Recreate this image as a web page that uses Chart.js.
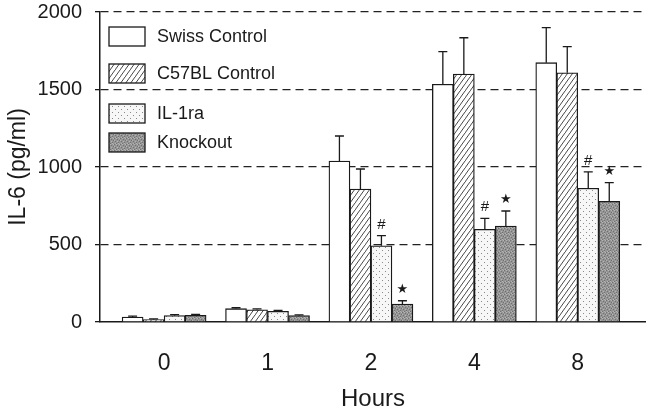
<!DOCTYPE html>
<html>
<head>
<meta charset="utf-8">
<script src="https://cdn.jsdelivr.net/npm/chart.js@4"></script>
<style>
  body { margin: 0; background: #fff; }
  #wrap { width: 646px; height: 415px; position: relative; }
</style>
</head>
<body>
<div id="wrap"><canvas id="il6Chart"></canvas></div>
<script>
const hours = ['0', '1', '2', '4', '8'];
const seriesNames = ['Swiss Control', 'C57BL Control', 'IL-1ra', 'Knockout'];

const swiss = [32, 86, 1039, 1534, 1673];
const swissErr = [6, 6, 161, 210, 226];
const c57 = [15, 79, 858, 1600, 1608];
const c57Err = [5, 6, 129, 234, 168];
const il1ra = [41, 69, 492, 598, 863];
const il1raErr = [6, 6, 65, 71, 105];
const knockout = [43, 41, 116, 619, 779];
const knockoutErr = [6, 5, 21, 97, 120];

const il1raSig = ['', '', '#', '#', '#'];
const knockoutSig = ['', '', '★', '★', '★'];

const yTicks = [0, 500, 1000, 1500, 2000];

const FONT = "'Liberation Sans', Arial, sans-serif";
const INK = '#1a1a1a';

function makePattern(w, h, paint) {
    const c = document.createElement('canvas');
    c.width = w; c.height = h;
    const g = c.getContext('2d');
    paint(g, w, h);
    return g.createPattern(c, 'repeat');
}

const ctx = document.getElementById('il6Chart').getContext('2d');

const hatch = makePattern(5, 7, (g, w, h) => {
    g.fillStyle = '#fff'; g.fillRect(0, 0, w, h);
    g.strokeStyle = '#333'; g.lineWidth = 0.9;
    g.beginPath();
    g.moveTo(0, h); g.lineTo(w, 0);
    g.moveTo(-w, h); g.lineTo(0, 0);
    g.moveTo(w, 2 * h); g.lineTo(2 * w, 0);
    g.stroke();
});

const dots = makePattern(6, 6, (g, w, h) => {
    g.fillStyle = '#f7f7f7'; g.fillRect(0, 0, w, h);
    g.fillStyle = '#8a8a8a';
    g.fillRect(1, 1, 1, 1);
    g.fillRect(4, 4, 1, 1);
});

const speckle = makePattern(6, 6, (g, w, h) => {
    g.fillStyle = '#959595'; g.fillRect(0, 0, w, h);
    g.fillStyle = '#707070';
    [[0, 0], [3, 1], [1, 3], [4, 4], [5, 2], [2, 5]].forEach(p => g.fillRect(p[0], p[1], 1, 1));
    g.fillStyle = '#b4b4b4';
    [[2, 0], [5, 0], [0, 2], [3, 3], [1, 5], [4, 5]].forEach(p => g.fillRect(p[0], p[1], 1, 1));
});

const fills = ['#ffffff', hatch, dots, speckle];
const values = [swiss, c57, il1ra, knockout];
const errors = [swissErr, c57Err, il1raErr, knockoutErr];
const sigMarks = [null, null, il1raSig, knockoutSig];

// upward-only error bars with caps, plus the # / star significance marks
const errorBars = {
    id: 'errorBars',
    afterDatasetsDraw(chart) {
        const c = chart.ctx;
        const y = chart.scales.y;
        c.save();
        c.strokeStyle = INK;
        c.lineWidth = 1.3;
        chart.data.datasets.forEach((ds, i) => {
            chart.getDatasetMeta(i).data.forEach((bar, j) => {
                const top = y.getPixelForValue(values[i][j] + errors[i][j]);
                c.beginPath();
                c.moveTo(bar.x, bar.y);
                c.lineTo(bar.x, top);
                c.moveTo(bar.x - 4.5, top);
                c.lineTo(bar.x + 4.5, top);
                c.stroke();
                const mark = sigMarks[i] && sigMarks[i][j];
                if (mark) {
                    c.fillStyle = INK;
                    c.textAlign = 'center';
                    c.textBaseline = 'middle';
                    c.font = mark === '#' ? `15px ${FONT}` : `13px 'DejaVu Sans', sans-serif`;
                    c.fillText(mark, bar.x, top - 11);
                }
            });
        });
        c.restore();
    }
};

// legend sits inside the plot, top left, no background
const insideLegend = {
    id: 'insideLegend',
    afterDraw(chart) {
        const c = chart.ctx;
        const area = chart.chartArea;
        const rowY = [27, 64, 104, 133];
        c.save();
        c.font = `18px ${FONT}`;
        c.textBaseline = 'middle';
        c.textAlign = 'left';
        chart.data.datasets.forEach((ds, i) => {
            const x = area.left + 9;
            const y = rowY[i];
            c.fillStyle = ds.backgroundColor;
            c.fillRect(x, y, 36, 19);
            c.strokeStyle = INK;
            c.lineWidth = 1.3;
            c.strokeRect(x, y, 36, 19);
            c.fillStyle = INK;
            c.fillText(ds.label, x + 48, y + 10);
        });
        c.restore();
    }
};

new Chart(ctx, {
    type: 'bar',
    data: {
        datasets: seriesNames.map((name, i) => ({
            label: name,
            data: values[i].map((v, j) => ({ x: j, y: v })),
            backgroundColor: fills[i],
            borderColor: INK,
            borderWidth: 1.3,
            barThickness: 21
        }))
    },
    options: {
        responsive: true,
        maintainAspectRatio: false,
        animation: false,
        layout: { padding: { top: 12, right: 0, bottom: 0, left: 0 } },
        plugins: { legend: { display: false }, tooltip: { enabled: false } },
        scales: {
            x: {
                type: 'linear',
                offset: false,
                min: -0.62,
                max: 4.66,
                afterBuildTicks: s => { s.ticks = hours.map((h, i) => ({ value: i })); },
                afterFit: s => { s.height = 93; },
                ticks: {
                    callback: v => hours[v],
                    color: INK,
                    font: { family: FONT, size: 23 },
                    padding: 20,
                    maxRotation: 0
                },
                grid: { display: false },
                border: { color: INK, width: 1.5 },
                title: {
                    display: true,
                    text: 'Hours',
                    color: INK,
                    font: { family: FONT, size: 24 },
                    padding: { top: 0, bottom: 1 }
                }
            },
            y: {
                min: 0,
                max: 2000,
                afterBuildTicks: s => { s.ticks = yTicks.map(v => ({ value: v })); },
                afterFit: s => {
                    s.width = 100;
                    s.paddingTop = 0;
                    s.paddingBottom = 0;
                },
                ticks: {
                    callback: v => String(v),
                    color: INK,
                    font: { family: FONT, size: 20 },
                    padding: 13
                },
                grid: {
                    color: c => c.tick && c.tick.value === 0 ? 'rgba(0,0,0,0)' : '#222',
                    lineWidth: 1.3,
                    tickLength: 5,
                    tickColor: INK,
                    tickWidth: 1.3
                },
                border: { color: INK, width: 1.5, dash: [8, 5] },
                title: {
                    display: true,
                    text: 'IL-6 (pg/ml)',
                    color: INK,
                    font: { family: FONT, size: 23 },
                    padding: { top: 5, bottom: 0 }
                }
            }
        }
    },
    plugins: [errorBars, insideLegend]
});
</script>
</body>
</html>
